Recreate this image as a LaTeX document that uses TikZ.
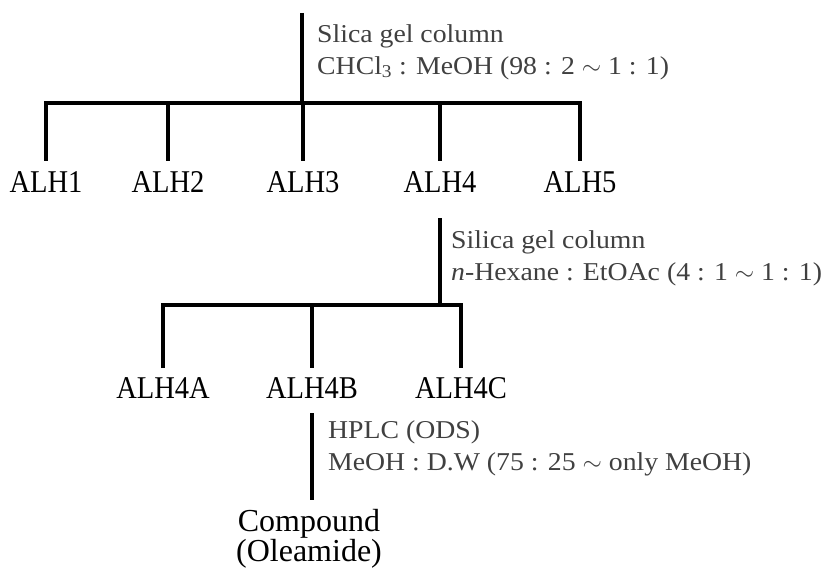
\documentclass[tikz,border=0pt]{standalone}
\usepackage{fontspec}
\setmainfont{Liberation Serif}
\newfontfamily\fracfont[FakeStretch=0.9]{Liberation Serif}
\newfontfamily\condfont[FakeStretch=1.08]{Liberation Serif}

\begin{document}
\begin{tikzpicture}[
    x=1pt, y=-1pt,
    fraction/.style={
        inner sep=0pt,
        anchor=north,
        font=\fracfont\fontsize{31.7}{34}\selectfont
    },
    condition/.style={
        anchor=west,
        inner sep=0pt,
        align=left,
        text=black!75,
        font=\condfont\fontsize{25.7}{32}\selectfont
    },
    product/.style={
        inner sep=0pt,
        anchor=north,
        align=center,
        font=\fontsize{32}{24}\selectfont
    },
    tree/.style={
        line width=3.8pt
    }
]
\useasboundingbox (0,0) rectangle (835,569);

% Primo frazionamento
\coordinate (top) at (302,13);
\coordinate (split1) at (302,103);
\node[fraction] (alh1) at (46,171) {ALH1};
\node[fraction] (alh2) at (168,171) {ALH2};
\node[fraction] (alh3) at (303,171) {ALH3};
\node[fraction] (alh4) at (440,171) {ALH4};
\node[fraction] (alh5) at (580,171) {ALH5};

\node[condition] (cond1) at (317,52) {Slica gel column\\CHCl\textsubscript{3} : MeOH (98 : 2 $\sim$ 1 : 1)};

\draw[tree] (top) -- (split1);
\draw[tree] ([yshift=10pt]alh1.north) |- (split1) -| ([yshift=10pt]alh5.north);
\foreach \n in {alh2,alh3,alh4}
    \draw[tree] (\n.north |- split1) -- ([yshift=10pt]\n.north);

% Secondo frazionamento
\coordinate (split2) at (440,305);
\node[fraction] (alh4a) at (163,377) {ALH4A};
\node[fraction] (alh4b) at (312,377) {ALH4B};
\node[fraction] (alh4c) at (461,377) {ALH4C};

\node[condition] (cond2) at (451,258) {Silica gel column\\\textit{n}-Hexane : EtOAc (4 : 1 $\sim$ 1 : 1)};

\draw[tree] ([yshift=-26pt]alh4.south) -- (split2);
\draw[tree] ([yshift=9pt]alh4a.north) |- (split2) -| ([yshift=9pt]alh4c.north);
\draw[tree] (alh4b.north |- split2) -- ([yshift=9pt]alh4b.north);

% HPLC
\node[product] (compound) at (309,509) {Compound\\(Oleamide)};
\node[condition] (cond3) at (328,448) {HPLC (ODS)\\MeOH : D.W (75 : 25 $\sim$ only MeOH)};

\draw[tree, shorten >=9pt] ([yshift=-15pt]alh4b.south) -- (alh4b.south |- compound.north);

\end{tikzpicture}
\end{document}
